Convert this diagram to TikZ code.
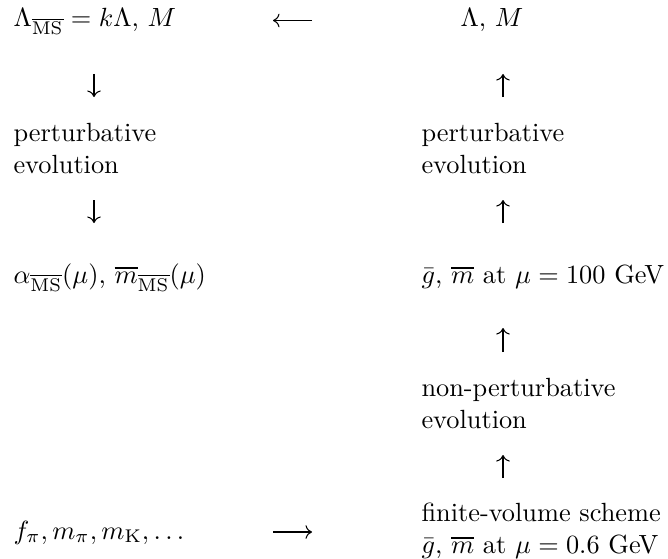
\documentclass[tikz,border=0pt]{standalone}
\usepackage{amsmath,amssymb}
\usetikzlibrary{arrows.meta}
\newcommand{\MSb}{\overline{\mathrm{MS}}}

\begin{document}
\begin{tikzpicture}[x=0.38pt,y=-0.38pt,
  lbl/.style={anchor=base west,inner sep=0pt,align=left},
  flow/.style={-{Computer Modern Rightarrow},line width=0.4pt}]
\useasboundingbox (0,0) rectangle (668,558);
% left column (two-line labels sit on their last line)
\node[lbl] (lamMS) at (13,27) {$\Lambda_{\MSb}=k\Lambda$, $M$};
\node[lbl] (pertL) at (13,173) {perturbative\\evolution};
\node[lbl] (alpha) at (13,283) {$\alpha_{\MSb}(\mu)$, $\overline{m}_{\MSb}(\mu)$};
\node[lbl] (fpi) at (13,539) {$f_\pi, m_\pi, m_{\mathrm{K}}, \ldots$};
% right column
\node[lbl] (lamM) at (460,27) {$\Lambda$, $M$};
\node[lbl] (pertR) at (421,173) {perturbative\\evolution};
\node[lbl] (g100) at (421,283) {$\bar{g}$, $\overline{m}$ at $\mu=100$ GeV};
\node[lbl] (npert) at (421,428) {non-perturbative\\evolution};
\node[lbl] (fvs) at (421,553) {finite-volume scheme\\$\bar{g}$, $\overline{m}$ at $\mu=0.6$ GeV};
% arrow ends
\coordinate (hA) at (312,20.5); \coordinate (hB) at (273,20.5);
\coordinate (hC) at (273,532); \coordinate (hD) at (312,532);
\coordinate (dA) at (94,74);  \coordinate (dB) at (94,97);
\coordinate (dC) at (94,200); \coordinate (dD) at (94,223);
\coordinate (uA) at (503,97);  \coordinate (uB) at (503,74);
\coordinate (uC) at (503,223); \coordinate (uD) at (503,200);
\coordinate (uE) at (503,352); \coordinate (uF) at (503,328);
\coordinate (uG) at (503,478); \coordinate (uH) at (503,455);
\draw[flow] (hA) -- (hB);
\draw[flow] (hC) -- (hD);
\draw[flow] (dA) -- (dB);
\draw[flow] (dC) -- (dD);
\draw[flow] (uA) -- (uB);
\draw[flow] (uC) -- (uD);
\draw[flow] (uE) -- (uF);
\draw[flow] (uG) -- (uH);
\end{tikzpicture}
\end{document}
